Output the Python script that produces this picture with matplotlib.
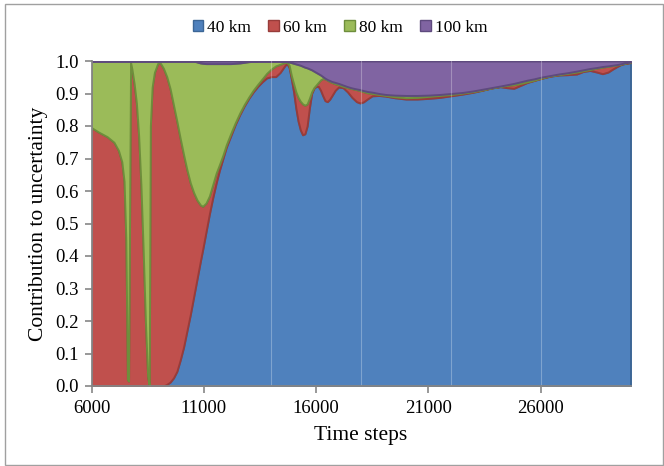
import matplotlib
matplotlib.use("Agg")
import matplotlib.pyplot as plt
from matplotlib.patches import Patch, Rectangle

# time steps (x axis)
steps = [6000, 6300, 6700, 7000, 7200, 7350, 7450, 7530, 7600, 7650,
         7740, 7800, 7900, 8000, 8100, 8200, 8300, 8400, 8500, 8570,
         8620, 8700, 8800, 8950, 9050, 9200, 9350, 9500, 9650, 9800,
         9950, 10100, 10250, 10400, 10550, 10700, 10850, 10950, 11100, 11250,
         11400, 11550, 11700, 11850, 12000, 12200, 12400, 12600, 12800, 13000,
         13200, 13400, 13600, 13800, 14000, 14200, 14400, 14600, 14700, 14800,
         14900, 15000, 15100, 15200, 15300, 15400, 15500, 15600, 15700, 15800,
         15900, 16000, 16100, 16200, 16300, 16400, 16500, 16600, 16700, 16850,
         17000, 17200, 17400, 17600, 17800, 17950, 18100, 18300, 18500, 18800,
         19100, 19500, 20000, 20500, 21000, 21500, 22000, 22500, 23000, 23400,
         23800, 24200, 24500, 24800, 25100, 25400, 25700, 26000, 26400, 26800,
         27200, 27600, 27900, 28200, 28500, 28750, 29000, 29200, 29400, 29600,
         29800, 30000]

# contribution of each source distance
km40 = [0, 0, 0, 0, 0, 0, 0, 0, 0, 0,
        0, 0, 0, 0, 0, 0, 0, 0, 0, 0,
        0, 0, 0, 0, 0, 0, 0.005, 0.012, 0.025, 0.045,
        0.080, 0.120, 0.170, 0.220, 0.275, 0.330, 0.385, 0.420, 0.475, 0.530,
        0.580, 0.625, 0.665, 0.700, 0.735, 0.770, 0.805, 0.835, 0.862, 0.885,
        0.905, 0.922, 0.936, 0.948, 0.952, 0.952, 0.965, 0.985, 0.993, 0.980,
        0.945, 0.905, 0.855, 0.815, 0.788, 0.773, 0.776, 0.800, 0.855, 0.900,
        0.916, 0.922, 0.922, 0.910, 0.893, 0.878, 0.875, 0.882, 0.893, 0.910,
        0.920, 0.918, 0.905, 0.888, 0.875, 0.871, 0.874, 0.884, 0.893, 0.894,
        0.892, 0.887, 0.883, 0.883, 0.885, 0.888, 0.893, 0.898, 0.904, 0.910,
        0.917, 0.921, 0.918, 0.916, 0.925, 0.934, 0.940, 0.946, 0.953, 0.957,
        0.958, 0.960, 0.968, 0.971, 0.966, 0.961, 0.966, 0.975, 0.983, 0.990,
        0.993, 0.995]
km60 = [0.795, 0.782, 0.767, 0.750, 0.725, 0.690, 0.630, 0.450, 0.020, 0.015,
        0.995, 0.975, 0.930, 0.870, 0.770, 0.620, 0.420, 0.200, 0.030, 0.000,
        0.800, 0.920, 0.965, 0.993, 0.995, 0.978, 0.947, 0.903, 0.840, 0.770,
        0.682, 0.592, 0.495, 0.405, 0.320, 0.242, 0.172, 0.133, 0.088, 0.055,
        0.040, 0.030, 0.017, 0.010, 0.007, 0.007, 0.005, 0.005, 0.004, 0.004,
        0.005, 0.006, 0.009, 0.014, 0.023, 0.033, 0.025, 0.010, 0.003, 0.007,
        0.010, 0.025, 0.050, 0.073, 0.088, 0.095, 0.088, 0.068, 0.030, 0.005,
        0.002, 0.004, 0.012, 0.032, 0.053, 0.067, 0.066, 0.055, 0.041, 0.020,
        0.007, 0.004, 0.013, 0.027, 0.037, 0.038, 0.032, 0.018, 0.007, 0.003,
        0.002, 0.003, 0.004, 0.005, 0.006, 0.006, 0.004, 0.003, 0.002, 0.001,
        0.000, 0.001, 0.007, 0.011, 0.006, 0.002, 0.001, 0.001, 0.001, 0.001,
        0.004, 0.006, 0.002, 0.003, 0.012, 0.020, 0.018, 0.011, 0.005, 0.001,
        0.001, 0.001]
km80 = [0.205, 0.218, 0.233, 0.250, 0.275, 0.310, 0.370, 0.550, 0.980, 0.985,
        0.005, 0.025, 0.070, 0.130, 0.230, 0.380, 0.580, 0.800, 0.970, 1.000,
        0.200, 0.080, 0.035, 0.007, 0.005, 0.022, 0.048, 0.085, 0.135, 0.185,
        0.238, 0.288, 0.335, 0.375, 0.405, 0.425, 0.437, 0.440, 0.429, 0.407,
        0.372, 0.337, 0.310, 0.282, 0.250, 0.215, 0.183, 0.154, 0.130, 0.109,
        0.089, 0.072, 0.055, 0.038, 0.025, 0.015, 0.010, 0.004, 0.002, 0.010,
        0.040, 0.063, 0.086, 0.101, 0.111, 0.116, 0.117, 0.111, 0.091, 0.068,
        0.051, 0.039, 0.027, 0.015, 0.006, 0.002, 0.002, 0.003, 0.003, 0.004,
        0.004, 0.004, 0.003, 0.002, 0.002, 0.003, 0.003, 0.004, 0.004, 0.003,
        0.003, 0.005, 0.007, 0.006, 0.004, 0.003, 0.003, 0.002, 0.002, 0.002,
        0.001, 0.001, 0.002, 0.004, 0.005, 0.005, 0.004, 0.003, 0.001, 0.002,
        0.002, 0.003, 0.003, 0.003, 0.002, 0.002, 0.001, 0.001, 0.001, 0.001,
        0.001, 0.001]
km100 = [0, 0, 0, 0, 0, 0, 0, 0, 0, 0,
         0, 0, 0, 0, 0, 0, 0, 0, 0, 0,
         0, 0, 0, 0, 0, 0, 0, 0, 0, 0,
         0, 0, 0, 0, 0, 0.003, 0.006, 0.007, 0.008, 0.008,
         0.008, 0.008, 0.008, 0.008, 0.008, 0.008, 0.007, 0.006, 0.004, 0.002,
         0.001, 0, 0, 0, 0, 0, 0, 0.001, 0.002, 0.003,
         0.005, 0.007, 0.009, 0.011, 0.013, 0.016, 0.019, 0.021, 0.024, 0.027,
         0.031, 0.035, 0.039, 0.043, 0.048, 0.053, 0.057, 0.060, 0.063, 0.066,
         0.069, 0.074, 0.079, 0.083, 0.086, 0.088, 0.091, 0.094, 0.096, 0.100,
         0.103, 0.105, 0.106, 0.106, 0.105, 0.103, 0.100, 0.097, 0.092, 0.087,
         0.082, 0.077, 0.073, 0.069, 0.064, 0.059, 0.055, 0.050, 0.045, 0.040,
         0.036, 0.031, 0.027, 0.023, 0.020, 0.017, 0.015, 0.013, 0.011, 0.008,
         0.005, 0.003]

labels = ["40 km", "60 km", "80 km", "100 km"]
fills = ["#4F81BD", "#C0504D", "#9BBB59", "#8064A2"]
edges = ["#3C6696", "#983C3A", "#6E8E3C", "#5E4A7E"]

x_ticks = [6000, 11000, 16000, 21000, 26000]
y_ticks = [0.0, 0.1, 0.2, 0.3, 0.4, 0.5, 0.6, 0.7, 0.8, 0.9, 1.0]

plt.rcParams["font.family"] = ["Liberation Serif", "DejaVu Serif"]

fig = plt.figure(figsize=(6.64, 4.66), dpi=100)
ax = fig.add_axes([91.5 / 664, 1 - 386 / 466, 539 / 664, 325 / 466])

polys = ax.stackplot(steps, km40, km60, km80, km100, colors=fills)
for p, ec in zip(polys, edges):
    p.set_edgecolor(ec)
    p.set_linewidth(1.4)

# faint seams seen in the original
for xv in [14000, 18000, 22000, 26000]:
    ax.axvline(xv, color="white", alpha=0.28, lw=0.8, zorder=5)

ax.set_xlim(6000, 30000)
ax.set_ylim(0, 1)
ax.set_xticks(x_ticks)
ax.set_yticks(y_ticks)
ax.set_yticklabels(["%.1f" % v for v in y_ticks])

for s in ["top", "right"]:
    ax.spines[s].set_visible(False)
for s in ["left", "bottom"]:
    ax.spines[s].set_color("#868686")
    ax.spines[s].set_linewidth(1.3)
    ax.spines[s].set_zorder(6)
ax.tick_params(direction="out", length=5, width=1.2, color="#868686",
               labelsize=13.5, labelcolor="black")
ax.tick_params(axis="x", pad=5)
ax.tick_params(axis="y", pad=4)

ax.set_xlabel("Time steps", fontsize=15.5)
ax.set_ylabel("Contribution to uncertainty", fontsize=15.5)
ax.xaxis.set_label_coords(0.5, -0.123)
ax.yaxis.set_label_coords(-0.08, 0.5)

handles = [Patch(facecolor=f, edgecolor=e, lw=1) for f, e in zip(fills, edges)]
fig.legend(handles, labels, loc="center", bbox_to_anchor=(340 / 664, 1 - 28 / 466),
           ncol=4, frameon=False, fontsize=12.5, handlelength=0.6, handleheight=0.6,
           handletextpad=0.25, columnspacing=1.0)

# chart border
fig.patches.append(Rectangle((5 / 664, 1 / 466), 658 / 664, 461 / 466,
                             transform=fig.transFigure, fill=False,
                             edgecolor="#A0A0A0", lw=1))

fig.savefig("out.png", dpi=100)
